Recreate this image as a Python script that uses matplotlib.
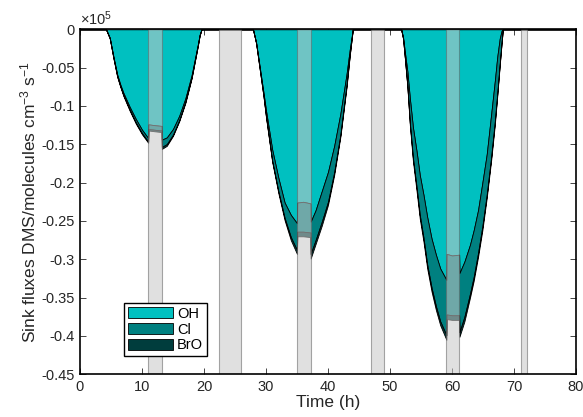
import numpy as np
import matplotlib
matplotlib.use("Agg")
import matplotlib.pyplot as plt
from matplotlib.ticker import FuncFormatter

plt.rcParams['font.family'] = ['Liberation Sans', 'DejaVu Sans']
plt.rcParams['mathtext.fontset'] = 'custom'
plt.rcParams['mathtext.rm'] = 'Liberation Sans'
plt.rcParams['mathtext.it'] = 'Liberation Sans:italic'
plt.rcParams['mathtext.default'] = 'regular'

# time (h) and sink fluxes (x 1e5 molecules cm-3 s-1)
time_h = [0, 4.2, 4.8, 5.4, 6.0, 6.5, 7.0, 8.0, 9.0, 10.0, 11.0,
          11.05, 12.0, 13.15,
          13.2, 14, 15, 16, 17, 18, 18.5, 19, 19.3, 19.6,
          27.9, 28.4, 29.0, 29.6, 30.0, 31.0, 32.0, 33.0, 34.0, 35.0,
          35.05, 36.0, 37.15,
          37.2, 38, 39, 40, 41, 42, 43, 43.5, 44.0,
          51.8, 52.1, 52.4, 52.8, 53.2, 53.7, 54.3, 54.8, 55.4, 56.0, 56.7, 57.4, 58.1, 59.1,
          59.15, 60.0, 61.15,
          61.2, 62.0, 62.9, 63.5, 64.2, 64.9, 65.6, 66.3, 66.9, 67.3, 67.7, 68.0, 68.2,
          80]

oh = [0, 0, -0.011, -0.036, -0.059, -0.072, -0.083, -0.101, -0.117, -0.131, -0.142,
      -0.124, -0.125, -0.126,
      -0.144, -0.141, -0.130, -0.113, -0.090, -0.060, -0.040, -0.020, -0.007, 0,
      0, -0.017, -0.050, -0.083, -0.106, -0.157, -0.194, -0.226, -0.242, -0.253,
      -0.226, -0.225, -0.227,
      -0.251, -0.236, -0.211, -0.186, -0.152, -0.110, -0.058, -0.027, 0,
      0, -0.010, -0.030, -0.055, -0.090, -0.128, -0.160, -0.190, -0.216, -0.245, -0.273, -0.294, -0.312, -0.327,
      -0.293, -0.295, -0.294,
      -0.318, -0.303, -0.281, -0.262, -0.236, -0.200, -0.163, -0.112, -0.068, -0.036, -0.012, -0.002, 0,
      0]

cl = [0, 0, -0.0007, -0.0015, -0.002, -0.0022, -0.0028, -0.0035, -0.0045, -0.0045, -0.0045,
      -0.006, -0.006, -0.006,
      -0.0095, -0.0088, -0.0075, -0.0057, -0.0045, -0.003, -0.0022, -0.0015, -0.0008, 0,
      0, -0.0008, -0.0025, -0.004, -0.0075, -0.0145, -0.0175, -0.020, -0.029, -0.035,
      -0.038, -0.039, -0.038,
      -0.042, -0.039, -0.040, -0.039, -0.0345, -0.0275, -0.0145, -0.0065, 0,
      0, -0.0018, -0.0072, -0.0185, -0.032, -0.040, -0.047, -0.052, -0.056, -0.062, -0.064, -0.067, -0.069, -0.072,
      -0.079, -0.078, -0.079,
      -0.077, -0.072, -0.064, -0.061, -0.056, -0.057, -0.053, -0.056, -0.053, -0.048, -0.033, -0.015, 0,
      0]

bro = [0, 0, -0.0003, -0.0005, -0.001, -0.0008, -0.0012, -0.0015, -0.0015, -0.0015, -0.0015,
       -0.002, -0.002, -0.002,
       -0.0025, -0.0022, -0.0015, -0.0013, -0.0015, -0.001, -0.0008, -0.0005, -0.0002, 0,
       0, -0.0002, -0.0005, -0.001, -0.0015, -0.0015, -0.0025, -0.003, -0.004, -0.005,
       -0.006, -0.006, -0.006,
       -0.006, -0.005, -0.005, -0.004, -0.0035, -0.0025, -0.0025, -0.0015, 0,
       0, -0.0002, -0.0008, -0.0015, -0.003, -0.004, -0.005, -0.005, -0.005, -0.005, -0.005, -0.005, -0.005, -0.006,
       -0.006, -0.006, -0.006,
       -0.006, -0.006, -0.005, -0.005, -0.005, -0.005, -0.004, -0.004, -0.004, -0.003, -0.002, -0.001, 0,
       0]

# shaded periods (h)
shade_start = [11.0, 22.4, 35.0, 46.9, 59.1, 71.1]
shade_end = [13.2, 26.0, 37.2, 49.0, 61.2, 72.1]

labels = ['OH', 'Cl', 'BrO']
colors = ['#00c0c0', '#008080', '#003d3d']

fig = plt.figure(figsize=(5.83, 4.17), dpi=100)
ax = fig.add_axes([0.1372, 0.1024, 0.8508, 0.8273])

ax.stackplot(time_h, oh, cl, bro, labels=labels, colors=colors,
             edgecolor='black', linewidth=0.6, zorder=2)

for a, b in zip(shade_start, shade_end):
    ax.axvspan(a, b, facecolor='#c8c8c8', edgecolor='#666666',
               alpha=0.56, linewidth=0.8, zorder=3)

ax.set_xlim(0, 80)
ax.set_ylim(-0.45, 0)
ax.set_xticks(np.arange(0, 81, 10))
ax.set_yticks(np.arange(-0.45, 0.001, 0.05))
ax.yaxis.set_major_formatter(FuncFormatter(lambda v, p: '%g' % (round(v, 2) + 0.0)))

ax.tick_params(direction='in', top=True, right=True, length=4, width=0.6,
               labelsize=10.5, colors='#262626', pad=4)
for s in ax.spines.values():
    s.set_linewidth(1.2)
    s.set_color('black')
    s.set_zorder(5)

ax.text(0.0, 1.003, '×10$^5$', transform=ax.transAxes, ha='left',
        va='bottom', fontsize=10.5, color='#262626')

ax.set_xlabel('Time (h)', fontsize=12.5, color='#262626', labelpad=1)
ax.set_ylabel('Sink fluxes DMS/molecules cm$^{-3}$ s$^{-1}$', fontsize=12.5,
              color='#262626', labelpad=2)

leg = ax.legend(loc='lower left', bbox_to_anchor=(0.089, 0.053), borderaxespad=0,
                fontsize=10.5, handlelength=3.1, handleheight=0.8, labelspacing=0.12,
                handletextpad=0.27, borderpad=0.25, fancybox=False, framealpha=1)
leg.get_frame().set_edgecolor('black')
leg.get_frame().set_linewidth(1.0)
leg.set_zorder(6)

fig.savefig('out.png', dpi=100)
